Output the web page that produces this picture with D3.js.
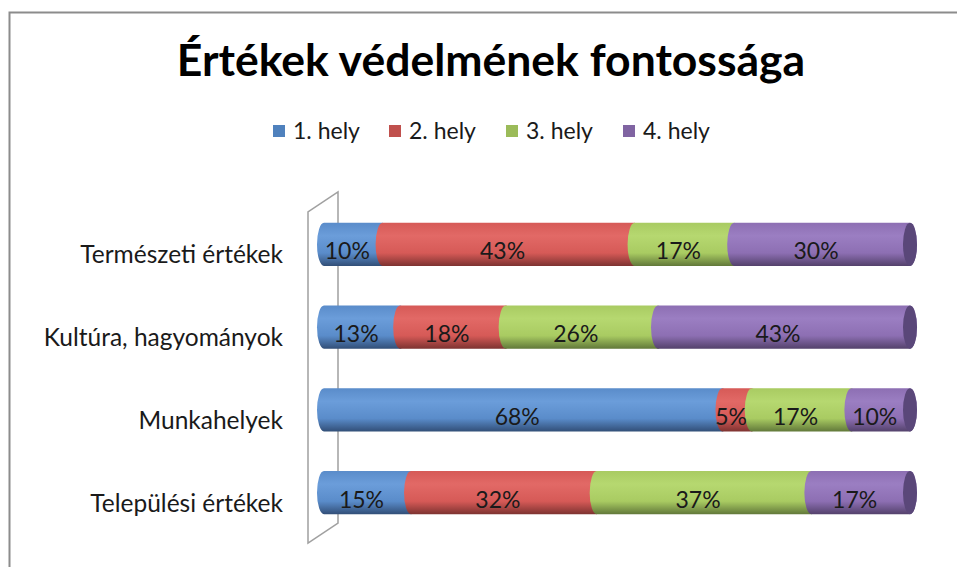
<!DOCTYPE html>
<html><head><meta charset="utf-8">
<script src="https://cdn.jsdelivr.net/npm/d3@7"></script>
<style>body{margin:0;background:#fff}svg{display:block}</style>
</head><body>
<script>
const categories = ["Természeti értékek","Kultúra, hagyományok","Munkahelyek","Települési értékek"];
const seriesNames = ["1. hely","2. hely","3. hely","4. hely"];
const hely1 = [10,13,68,15];
const hely2 = [43,18,5,32];
const hely3 = [17,26,17,37];
const hely4 = [30,43,10,17];
const title = "Értékek védelmének fontossága";

const W=957,H=567;
const svg=d3.select("body").append("svg").attr("width",W).attr("height",H);
const defs=svg.append("defs");
const palettes=[
 {base:"#4f81bd",top:"#5a8cca",light:"#6b9dda",dark:"#324f78",cap:"#2f4a70"},
 {base:"#c0504d",top:"#d65a57",light:"#e26966",dark:"#7e3331",cap:"#7a302e"},
 {base:"#9bbb59",top:"#a9cb62",light:"#b6d870",dark:"#62793a",cap:"#5f7436"},
 {base:"#8064a2",top:"#8d6fb3",light:"#9b7ec2",dark:"#54426c",cap:"#5a4779"}
];
palettes.forEach((p,i)=>{
  const g=defs.append("linearGradient").attr("id","g"+i).attr("x1",0).attr("y1",0).attr("x2",0).attr("y2",1);
  g.append("stop").attr("offset",0).attr("stop-color",p.top);
  g.append("stop").attr("offset",0.3).attr("stop-color",p.light);
  g.append("stop").attr("offset",0.7).attr("stop-color",p.top);
  g.append("stop").attr("offset",1).attr("stop-color",p.dark);
});

// frame
svg.append("path").attr("d","M9.5,567 V12.5 H957").attr("fill","none").attr("stroke","#8c8c8c").attr("stroke-width",2);

svg.append("text").attr("x",491).attr("y",76).attr("text-anchor","middle")
 .attr("font-family","Lato, 'Open Sans', sans-serif").attr("font-weight","bold").attr("font-size",44.5)
 .attr("fill","#000").text(title);

// legend
const legX=[273,389,506,623];
seriesNames.forEach((s,i)=>{
  svg.append("rect").attr("x",legX[i]).attr("y",125).attr("width",12).attr("height",12).attr("fill",palettes[i].base);
  svg.append("text").attr("x",legX[i]+20).attr("y",139).attr("font-family","Lato, sans-serif").attr("font-size",23).attr("fill","#1a1a1a").text(s);
});

const x=d3.scaleLinear().domain([0,1]).range([324,910]);
const y=d3.scaleBand().domain(categories).range([203,534]).paddingInner(0.48).paddingOuter(0.24);

// back wall
svg.append("path").attr("d","M308,543 V212 L338,192 V523 Z").attr("fill","none").attr("stroke","#a0a0a0").attr("stroke-width",1.5);

const rows=categories.map((c,i)=>({cat:c,vals:[hely1[i],hely2[i],hely3[i],hely4[i]]}));
const rx=7;
rows.forEach(r=>{
  const tot=d3.sum(r.vals);
  let acc=0;
  const y0=y(r.cat), y1=y0+y.bandwidth(), ry=y.bandwidth()/2, cy=y0+ry;
  const segs=r.vals.map((v,i)=>{const s={i,v,a:acc/tot,b:(acc+v)/tot};acc+=v;return s;});
  const g=svg.append("g");
  segs.forEach(s=>{
    const xa=x(s.a), xb=x(s.b);
    g.append("path").attr("d",`M${xa},${y0} L${xb},${y0} A${rx},${ry} 0 0 1 ${xb},${y1} L${xa},${y1} A${rx},${ry} 0 0 1 ${xa},${y0} Z`)
     .attr("fill",`url(#g${s.i})`);
  });
  const last=segs[segs.length-1];
  g.append("ellipse").attr("cx",x(last.b)).attr("cy",cy).attr("rx",rx).attr("ry",ry).attr("fill",palettes[last.i].cap);
  segs.forEach(s=>{
    g.append("text").attr("x",(x(s.a)+x(s.b))/2-6).attr("y",cy+15).attr("text-anchor","middle")
     .attr("font-family","Lato, sans-serif").attr("font-size",23).attr("fill","#1a1a1a").text(s.v+"%");
  });
  svg.append("text").attr("x",283).attr("y",cy+19).attr("text-anchor","end")
   .attr("font-family","Lato, sans-serif").attr("font-size",24.5).attr("fill","#1a1a1a").text(r.cat);
});
</script>
</body></html>
